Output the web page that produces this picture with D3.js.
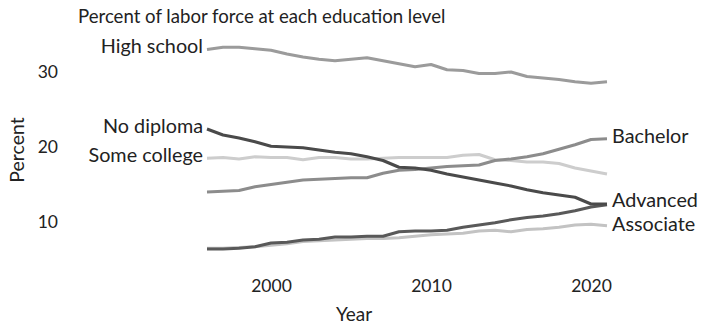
<!DOCTYPE html>
<html>
<head>
<meta charset="utf-8">
<script src="https://cdn.jsdelivr.net/npm/d3@7"></script>
<style>
  body { margin: 0; background: #fff; }
  text { font-family: Lato, "Noto Sans", sans-serif; fill: #222; }
</style>
</head>
<body>
<svg id="chart" width="708" height="334"></svg>
<script>
// data
var years = d3.range(1996, 2022);
var noDiploma   = [22.4, 21.6, 21.2, 20.7, 20.1, 20.0, 19.9, 19.6, 19.3, 19.1, 18.7, 18.2, 17.3, 17.2, 16.9, 16.4, 16.0, 15.6, 15.2, 14.8, 14.3, 13.9, 13.6, 13.3, 12.4, 12.4];
var highSchool  = [33.0, 33.3, 33.3, 33.1, 32.9, 32.4, 32.0, 31.7, 31.5, 31.7, 31.9, 31.5, 31.1, 30.7, 31.0, 30.3, 30.2, 29.8, 29.8, 30.0, 29.4, 29.2, 29.0, 28.7, 28.5, 28.7];
var someCollege = [18.5, 18.6, 18.4, 18.7, 18.6, 18.6, 18.3, 18.6, 18.6, 18.4, 18.4, 18.5, 18.6, 18.6, 18.6, 18.6, 18.9, 19.0, 18.3, 18.2, 18.0, 18.0, 17.8, 17.2, 16.8, 16.4];
var associate   = [6.5, 6.5, 6.6, 6.7, 6.9, 7.1, 7.4, 7.5, 7.6, 7.7, 7.8, 7.8, 7.9, 8.1, 8.3, 8.4, 8.5, 8.8, 8.9, 8.7, 9.0, 9.1, 9.3, 9.6, 9.7, 9.5];
var bachelor    = [14.0, 14.1, 14.2, 14.7, 15.0, 15.3, 15.6, 15.7, 15.8, 15.9, 15.9, 16.5, 16.9, 17.0, 17.2, 17.4, 17.5, 17.6, 18.2, 18.4, 18.7, 19.1, 19.7, 20.3, 21.0, 21.1];
var advanced    = [6.4, 6.4, 6.5, 6.7, 7.2, 7.3, 7.6, 7.7, 8.0, 8.0, 8.1, 8.1, 8.7, 8.8, 8.8, 8.9, 9.3, 9.6, 9.9, 10.3, 10.6, 10.8, 11.1, 11.5, 12.0, 12.3];

var yTicks = [10, 20, 30];
var xTicks = [2000, 2010, 2020];

// name, values, colour, which side the label sits
var series = [
  ["High school", highSchool, "#9b9b9b", "left"],
  ["Some college", someCollege, "#cdcdcd", "left"],
  ["Associate", associate, "#c3c3c3", "right"],
  ["Bachelor", bachelor, "#8c8c8c", "right"],
  ["Advanced", advanced, "#595959", "right"],
  ["No diploma", noDiploma, "#4a4a4a", "left"]
];

var svg = d3.select("#chart");

var x = d3.scaleLinear().domain([1996, 2021]).range([207, 607]);
var y = d3.scaleLinear().domain([5, 35]).range([259.5, 34.5]);

var line = d3.line()
  .x(function(d, i) { return x(years[i]); })
  .y(function(d) { return y(d); });

svg.append("text")
  .attr("x", 78).attr("y", 23)
  .style("font-size", "18.6px")
  .text("Percent of labor force at each education level");

// axes without domain line or tick marks
var yAxis = svg.append("g")
  .attr("transform", "translate(62,0)")
  .call(d3.axisLeft(y).tickValues(yTicks).tickSize(0).tickPadding(4));
var xAxis = svg.append("g")
  .attr("transform", "translate(0,280)")
  .call(d3.axisBottom(x).tickValues(xTicks).tickFormat(d3.format("d")).tickSize(0).tickPadding(0));
svg.selectAll(".domain").remove();
svg.selectAll(".tick text").style("font-size", "17.5px").attr("fill", "#222");

svg.append("text")
  .attr("x", 354).attr("y", 321)
  .attr("text-anchor", "middle")
  .style("font-size", "19px")
  .text("Year");

svg.append("text")
  .attr("transform", "translate(24,150) rotate(-90)")
  .attr("text-anchor", "middle")
  .style("font-size", "19.5px")
  .text("Percent");

svg.selectAll("path.series")
  .data(series)
  .enter().append("path")
  .attr("class", "series")
  .attr("fill", "none")
  .attr("stroke", function(d) { return d[2]; })
  .attr("stroke-width", 3)
  .attr("stroke-linejoin", "round")
  .attr("d", function(d) { return line(d[1]); });

// label positions: line end (or start) value, then nudge apart on each side
var labels = series.map(function(d) {
  var v = d[3] == "left" ? d[1][0] : d[1][d[1].length - 1];
  return { name: d[0], side: d[3], ly: y(v) };
});
["left", "right"].forEach(function(side) {
  var grp = labels.filter(function(l) { return l.side == side; })
    .sort(function(a, b) { return a.ly - b.ly; });
  var gap = 23.5;
  for (var i = 1; i < grp.length; i++) {
    var over = gap - (grp[i].ly - grp[i - 1].ly);
    if (over > 0) {
      grp[i - 1].ly -= over / 2;
      grp[i].ly += over / 2;
    }
  }
});

svg.selectAll("text.lab")
  .data(labels)
  .enter().append("text")
  .attr("class", "lab")
  .style("font-size", "19.8px")
  .attr("dy", "0.2em")
  .attr("text-anchor", function(d) { return d.side == "left" ? "end" : "start"; })
  .attr("x", function(d) { return d.side == "left" ? x(years[0]) - 4 : x(years[years.length - 1]) + 5; })
  .attr("y", function(d) { return d.ly; })
  .text(function(d) { return d.name; });
</script>
</body>
</html>
